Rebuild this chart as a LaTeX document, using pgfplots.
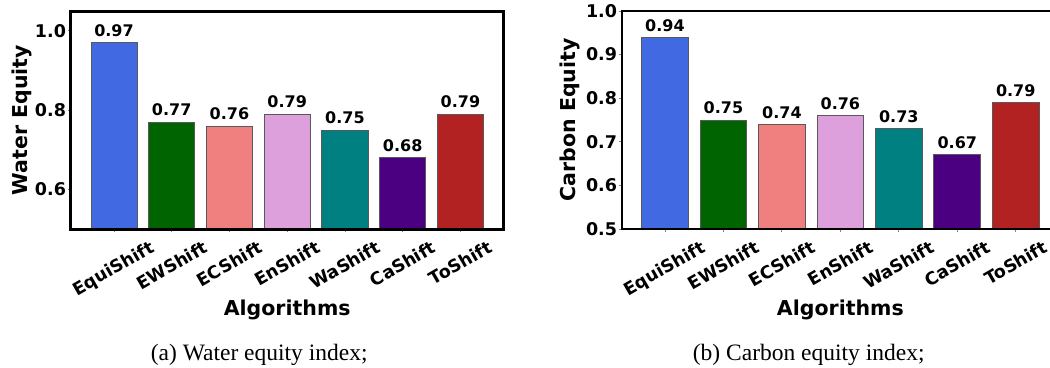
\documentclass[border=0pt]{standalone}
\usepackage{fontspec}
\setmainfont{Liberation Serif}
\newfontfamily\djv{DejaVu Sans}
\usepackage{graphicx}
\usepackage{pgfplots}
\pgfplotsset{compat=1.18}
\definecolor{cEqui}{HTML}{4169E1}
\definecolor{cEW}{HTML}{006400}
\definecolor{cEC}{HTML}{F08080}
\definecolor{cEn}{HTML}{DDA0DD}
\definecolor{cWa}{HTML}{008080}
\definecolor{cCa}{HTML}{4B0082}
\definecolor{cTo}{HTML}{B22222}
\newcommand{\tickfont}{\djv\bfseries\fontsize{17.5}{20}\selectfont}
\newcommand{\valfont}{\djv\bfseries\fontsize{16}{18}\selectfont}
\newcommand{\labfont}{\djv\bfseries\fontsize{20.5}{23}\selectfont}
\pgfplotsset{
  eqbar/.style={ybar, bar width=0.8, bar shift=0pt, draw=black!65, line width=0.8pt,
    nodes near coords={\pgfmathprintnumber[fixed,fixed zerofill,precision=2,assume math mode=true]{\pgfplotspointmeta}},
    every node near coord/.append style={font=\valfont, anchor=south, inner sep=0pt, yshift=5.5pt, text=black}},
  eqaxis/.style={
    scale only axis, height=218pt,
    axis on top,
    xmin=-0.75, xmax=6.75,
    xtick={0,1,2,3,4,5,6},
    xticklabels={\rotatebox{30}{EquiShift},\rotatebox{30}{EWShift},\rotatebox{30}{ECShift},\rotatebox{30}{EnShift},\rotatebox{30}{WaShift},\rotatebox{30}{CaShift},\rotatebox{30}{ToShift}},
    xtick pos=lower, ytick pos=left,
    tick align=outside, major tick length=2.5pt,
    tick style={gray, line width=0.8pt},
    xticklabel style={font=\tickfont, anchor=north, inner sep=0pt, yshift=-8pt},
    yticklabel style={font=\tickfont, anchor=east, inner sep=0pt, xshift=-2pt,
      /pgf/number format/.cd, fixed, fixed zerofill, precision=1, assume math mode=true},
    xlabel={Algorithms},
    xlabel style={font=\labfont, at={(axis description cs:0.5,-0.399)}, anchor=base, inner sep=0pt},
    ylabel style={font=\labfont, anchor=center, rotate=0, inner sep=0pt},
  }
}
\begin{document}
\begin{tikzpicture}
\begin{axis}[eqaxis, width=433pt, at={(70.7pt,-229pt)}, anchor=south west,
  ymin=0.5, ymax=1.05, ytick={0.6,0.8,1.0},
  axis line style={line width=3pt, black},
  ylabel={Water Equity},
  ylabel style={at={(axis description cs:-0.113,0.5)}}]
\addplot[eqbar, fill=cEqui] coordinates {(0,0.97)};
\addplot[eqbar, fill=cEW] coordinates {(1,0.77)};
\addplot[eqbar, fill=cEC] coordinates {(2,0.76)};
\addplot[eqbar, fill=cEn] coordinates {(3,0.79)};
\addplot[eqbar, fill=cWa] coordinates {(4,0.75)};
\addplot[eqbar, fill=cCa] coordinates {(5,0.68)};
\addplot[eqbar, fill=cTo] coordinates {(6,0.79)};
\end{axis}
\begin{axis}[eqaxis, width=437.3pt, at={(621.7pt,-229pt)}, anchor=south west,
  xmin=-0.74, xmax=6.74,
  ymin=0.5, ymax=1.0, ytick={0.5,0.6,0.7,0.8,0.9,1.0},
  axis line style={line width=2.2pt, black},
  ylabel={Carbon Equity},
  ylabel style={at={(axis description cs:-0.118,0.5)}}]
\addplot[eqbar, fill=cEqui] coordinates {(0,0.94)};
\addplot[eqbar, fill=cEW] coordinates {(1,0.75)};
\addplot[eqbar, fill=cEC] coordinates {(2,0.74)};
\addplot[eqbar, fill=cEn] coordinates {(3,0.76)};
\addplot[eqbar, fill=cWa] coordinates {(4,0.73)};
\addplot[eqbar, fill=cCa] coordinates {(5,0.67)};
\addplot[eqbar, fill=cTo] coordinates {(6,0.79)};
\end{axis}
\node[anchor=base west, inner sep=0pt, font=\fontsize{23.5}{26}\selectfont] at (150.7pt,-360pt) {(a) Water equity index;};
\node[anchor=base west, inner sep=0pt, font=\fontsize{23.5}{26}\selectfont] at (692.7pt,-360pt) {(b) Carbon equity index;};
\pgfresetboundingbox
\path[use as bounding box] (0,0) rectangle (1050pt,-367pt);
\end{tikzpicture}
\end{document}
